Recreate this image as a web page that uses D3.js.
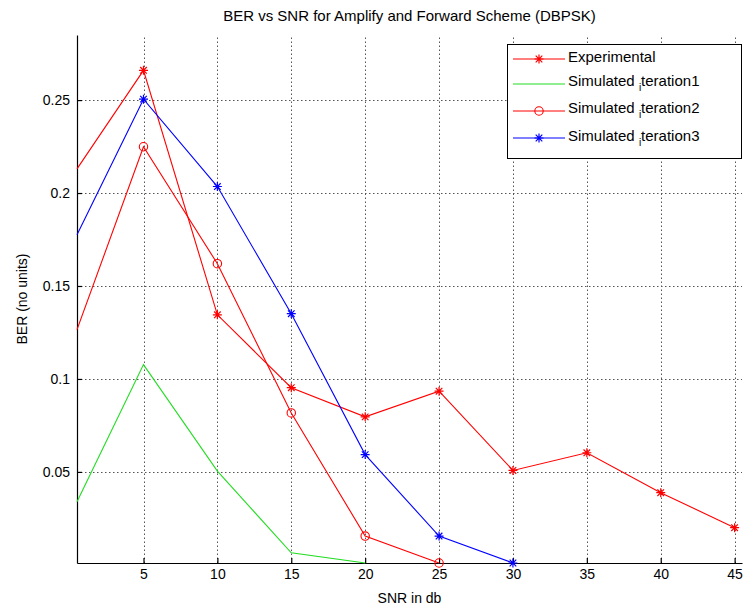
<!DOCTYPE html>
<html>
<head>
<meta charset="utf-8">
<script src="https://cdn.jsdelivr.net/npm/d3@7"></script>
<style>
  body { margin: 0; background: #fff; }
  text { font-family: "Liberation Sans", Arial, sans-serif; fill: #000; }
</style>
</head>
<body>
<script>
// SNR values (x) and BER series
const snr = [0.5, 5, 10, 15, 20, 25, 30, 35, 40, 45];
const experimental = [0.213, 0.266, 0.1345, 0.0953, 0.0796, 0.0934, 0.0508, 0.0603, 0.0388, 0.0200];
const simIteration1 = [0.034, 0.1077, 0.0504, 0.0065, 0.001];
const simIteration2 = [0.1265, 0.2249, 0.162, 0.0817, 0.0155, 0.001];
const simIteration3 = [0.1775, 0.2505, 0.2035, 0.1351, 0.0593, 0.0155, 0.001];

const xTicks = [5, 10, 15, 20, 25, 30, 35, 40, 45];
const yTicks = [0.05, 0.1, 0.15, 0.2, 0.25];
const yTickLabels = ["0.05", "0.1", "0.15", "0.2", "0.25"];

const width = 743;
const height = 611;

const svg = d3.select("body")
    .append("svg")
    .attr("width", width)
    .attr("height", height);

const x = d3.scaleLinear().domain([0.5, 45.5]).range([77, 742]);
const y = d3.scaleLinear().domain([0.001, 0.285]).range([563, 35]);

// grid (dotted, matlab style)
const grid = svg.append("g").attr("stroke", "#555").attr("stroke-dasharray", "1.5,2.5").attr("stroke-width", 1);
grid.selectAll(".vg")
    .data(xTicks)
    .join("line")
    .attr("x1", d => Math.round(x(d)) + 0.5)
    .attr("x2", d => Math.round(x(d)) + 0.5)
    .attr("y1", y.range()[0])
    .attr("y2", y.range()[1]);
grid.selectAll(".hg")
    .data(yTicks)
    .join("line")
    .attr("x1", x.range()[0])
    .attr("x2", x.range()[1])
    .attr("y1", d => Math.round(y(d)) + 0.5)
    .attr("y2", d => Math.round(y(d)) + 0.5);

// axes, ticks point inward
const xAxis = svg.append("g")
    .attr("transform", "translate(0," + y.range()[0] + ")")
    .call(d3.axisBottom(x).tickValues(xTicks).tickSizeInner(-5).tickSizeOuter(0).tickPadding(6));
const yAxis = svg.append("g")
    .attr("transform", "translate(" + x.range()[0] + ",0)")
    .call(d3.axisLeft(y).tickValues(yTicks).tickFormat((d, i) => yTickLabels[i]).tickSizeInner(-5).tickSizeOuter(0).tickPadding(7));

[xAxis, yAxis].forEach(a => {
    a.selectAll("text").style("font-size", "14px").style("font-family", "'Liberation Sans', Arial, sans-serif").attr("fill", "#000");
    a.selectAll("line, path").attr("stroke", "#000").attr("stroke-width", 1.2);
});

// series
const series = [
    { name: "Experimental", vals: experimental, color: "#ff0000", marker: "star" },
    { name: "Simulated_iteration1", vals: simIteration1, color: "#22dd22", marker: null },
    { name: "Simulated_iteration2", vals: simIteration2, color: "#ff0000", marker: "circle" },
    { name: "Simulated_iteration3", vals: simIteration3, color: "#0000ff", marker: "star" }
];

const line = d3.line()
    .x((d, i) => x(snr[i]))
    .y(d => y(d));

function drawMarker(g, type, color, cx, cy) {
    if (type === "star") {
        const r = 4.5, r2 = 3.3;
        g.append("path")
            .attr("d", `M${cx - r},${cy}L${cx + r},${cy}M${cx},${cy - r}L${cx},${cy + r}` +
                `M${cx - r2},${cy - r2}L${cx + r2},${cy + r2}M${cx - r2},${cy + r2}L${cx + r2},${cy - r2}`)
            .attr("stroke", color)
            .attr("stroke-width", 1.2)
            .attr("fill", "none");
    } else if (type === "circle") {
        g.append("circle")
            .attr("cx", cx).attr("cy", cy).attr("r", 4.2)
            .attr("stroke", color).attr("stroke-width", 1.1).attr("fill", "none");
    }
}

const plot = svg.append("g");
series.forEach(s => {
    plot.append("path")
        .datum(s.vals)
        .attr("d", line)
        .attr("fill", "none")
        .attr("stroke", s.color)
        .attr("stroke-width", 1.1);
    if (s.marker) {
        s.vals.forEach((v, i) => {
            if (snr[i] < 1) return;
            drawMarker(plot, s.marker, s.color, x(snr[i]), y(v));
        });
    }
});

// title and axis labels
svg.append("text")
    .attr("x", (x.range()[0] + x.range()[1]) / 2)
    .attr("y", 21)
    .attr("text-anchor", "middle")
    .style("font-size", "15px")
    .text("BER vs SNR for Amplify and Forward Scheme (DBPSK)");

svg.append("text")
    .attr("x", (x.range()[0] + x.range()[1]) / 2)
    .attr("y", 603)
    .attr("text-anchor", "middle")
    .style("font-size", "14px")
    .text("SNR in db");

svg.append("text")
    .attr("transform", "translate(27," + (y.range()[0] + y.range()[1]) / 2 + ") rotate(-90)")
    .attr("text-anchor", "middle")
    .style("font-size", "14px")
    .text("BER (no units)");

// legend
const legend = svg.append("g");
legend.append("rect")
    .attr("x", 507.5).attr("y", 44.5)
    .attr("width", 234).attr("height", 114)
    .attr("fill", "#fff").attr("stroke", "#000").attr("stroke-width", 1);

const rowY = [59, 84, 111, 138];
const textY = [62, 86, 113, 141];
series.forEach((s, i) => {
    legend.append("line")
        .attr("x1", 513).attr("x2", 565)
        .attr("y1", rowY[i]).attr("y2", rowY[i])
        .attr("stroke", s.color).attr("stroke-width", 1.1);
    if (s.marker) drawMarker(legend, s.marker, s.color, 539, rowY[i]);
    const t = legend.append("text")
        .attr("x", 568).attr("y", textY[i])
        .style("font-size", "15px");
    const parts = s.name.split("_");
    if (parts.length === 1) {
        t.text(s.name);
    } else {
        // tex-style subscript: first char after underscore
        t.append("tspan").text(parts[0] + " ");
        t.append("tspan").attr("dy", 5).style("font-size", "10px").text(parts[1][0]);
        t.append("tspan").attr("dy", -5).text(parts[1].slice(1));
    }
});
</script>
</body>
</html>
